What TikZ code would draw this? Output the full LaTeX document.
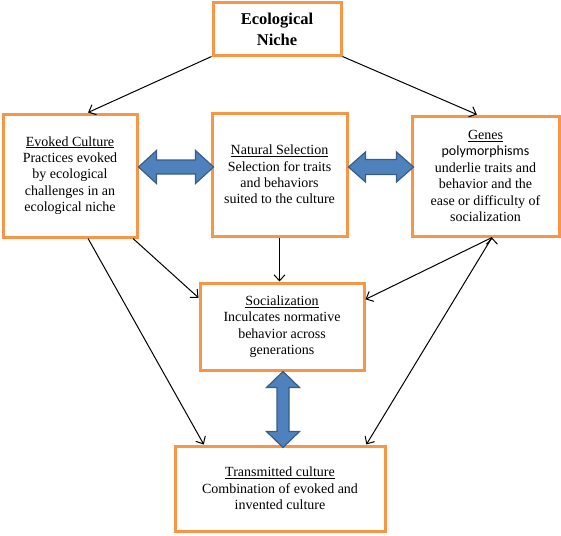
\documentclass[tikz,border=0pt]{standalone}
\usepackage{fontspec}
\setmainfont{Liberation Serif}
\newfontfamily\genesfont{Carlito}
\usetikzlibrary{calc, arrows.meta}
\definecolor{boxcol}{RGB}{247,150,70}
\definecolor{blockfill}{RGB}{79,129,189}
\definecolor{blockdraw}{RGB}{56,93,138}

\begin{document}
\begin{tikzpicture}[
			x=1pt, y=1pt,
			factor/.style={
				draw=boxcol,
				line width=3pt,
				fill=white,
				rectangle,
				align=center,
				inner sep=0pt,
				font=\fontsize{14}{16.4}\selectfont
			},
			link/.style={
				draw=black,
				line width=1pt,
				-{Straight Barb[length=6pt,width=11pt]}
			},
			twoway/.style={
				draw=blockdraw,
				fill=blockfill,
				line width=1.2pt,
				line join=miter
			}
			]
			\useasboundingbox (0,0) rectangle (561,-535);
			% Boxes
			\node[factor, minimum width=128pt, minimum height=52pt,
				font=\fontsize{16.5}{21}\selectfont\bfseries] (niche) at (277,-29) {Ecological\\Niche};
			\node[factor, minimum width=134pt, minimum height=123pt] (evoked) at (70,-175.5)
				{\underline{Evoked Culture}\\Practices evoked\\by ecological\\challenges in an\\ecological niche};
			\node[factor, minimum width=135pt, minimum height=123pt] (selection) at (279.5,-174.5)
				{\underline{Natural Selection}\\Selection for traits\\and behaviors\\suited to the culture};
			\node[factor, minimum width=147pt, minimum height=120pt] (genes) at (485.5,-176)
				{\underline{Genes}\\\genesfont\fontsize{14}{17.2}\selectfont polymorphisms\\underlie traits and\\behavior and the\\ease or difficulty of\\socialization};
			\node[factor, minimum width=164pt, minimum height=87pt] (social) at (282,-326.5)
				{\underline{Socialization}\\Inculcates normative\\behavior across\\generations};
			\node[factor, minimum width=210pt, minimum height=85pt] (transmitted) at (280,-488.5)
				{\underline{Transmitted culture}\\Combination of evoked and\\invented culture};
			
			% Block arrows
			\draw[twoway] ($(evoked.east)+(0,8.5)$) -- ++(18,16.5) -- ++(0,-9.5) -- ++(39,0)
				-- ++(0,9.5) -- ++(18,-16.5) -- ++(-18,-16.5) -- ++(0,9.5) -- ++(-39,0) -- ++(0,-9.5) -- cycle;
			\draw[twoway] ($(selection.east)+(0,7.5)$) -- ++(17,15) -- ++(0,-7.5) -- ++(31,0)
				-- ++(0,7.5) -- ++(17,-15) -- ++(-17,-15) -- ++(0,7.5) -- ++(-31,0) -- ++(0,-7.5) -- cycle;
			\draw[twoway] ($(social.south)+(1,0)$) -- ++(16.5,-16) -- ++(-10.5,0) -- ++(0,-44)
				-- ++(10.5,0) -- ++(-16.5,-16) -- ++(-16.5,16) -- ++(10.5,0) -- ++(0,44) -- ++(-10.5,0) -- cycle;
			
			% Links
			\path[link] (niche.south west) edge (evoked.74)
			(niche.south east) edge (genes.98)
			(selection.south) edge (selection.south |- social.north)
			(evoked.-45) edge (social.161)
			(evoked.-74) edge (transmitted.150)
			(genes.-84) edge (social.18)
			(genes.-84) edge (transmitted.27);
		\end{tikzpicture}
\end{document}
